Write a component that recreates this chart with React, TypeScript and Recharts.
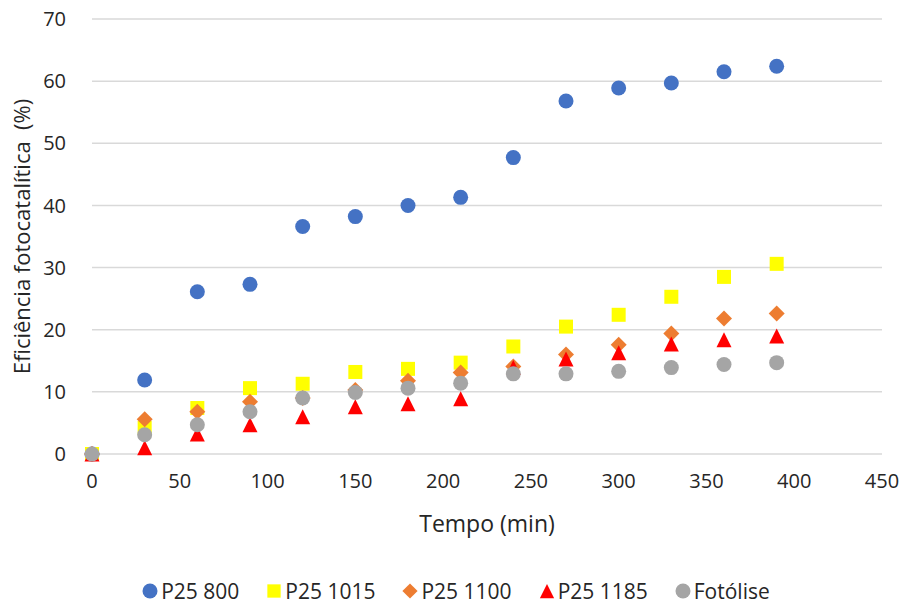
import {
  ScatterChart,
  Scatter,
  XAxis,
  YAxis,
  CartesianGrid,
  Legend,
  Label,
} from "recharts";

const tempo = [0, 30, 60, 90, 120, 150, 180, 210, 240, 270, 300, 330, 360, 390];
const p25_800 = [0, 11.9, 26.1, 27.3, 36.6, 38.2, 40.0, 41.3, 47.7, 56.8, 58.9, 59.7, 61.5, 62.4];
const p25_1015 = [0, 4.2, 7.4, 10.6, 11.3, 13.2, 13.7, 14.7, 17.3, 20.5, 22.4, 25.3, 28.5, 30.6];
const p25_1100 = [0, 5.6, 6.8, 8.4, 9.0, 10.3, 11.8, 13.1, 14.1, 16.0, 17.6, 19.4, 21.8, 22.6];
const p25_1185 = [0, 1.0, 3.2, 4.7, 6.0, 7.6, 8.1, 8.9, 13.9, 15.3, 16.3, 17.7, 18.4, 19.0];
const fotolise = [0, 3.1, 4.7, 6.8, 9.0, 9.9, 10.6, 11.4, 12.9, 12.9, 13.3, 13.9, 14.4, 14.7];

const xTicks = [0, 50, 100, 150, 200, 250, 300, 350, 400, 450];
const yTicks = [0, 10, 20, 30, 40, 50, 60, 70];

const FONT = "'Open Sans', sans-serif";
const TEXT = "#262626";

const toPoints = (vals: number[]) => tempo.map((t, i) => ({ x: t, y: vals[i] }));

type Kind = "circle" | "square" | "diamond" | "triangle";

const series: { name: string; data: number[]; color: string; kind: Kind }[] = [
  { name: "P25 800", data: p25_800, color: "#4472C4", kind: "circle" },
  { name: "P25 1015", data: p25_1015, color: "#FFFF00", kind: "square" },
  { name: "P25 1100", data: p25_1100, color: "#ED7D31", kind: "diamond" },
  { name: "P25 1185", data: p25_1185, color: "#FF0000", kind: "triangle" },
  { name: "Fotólise", data: fotolise, color: "#A5A5A5", kind: "circle" },
];

const Marker = ({ cx, cy, color, kind, s = 1 }: any) => {
  if (cx == null || cy == null) return null;
  if (kind === "square") {
    const h = 7 * s;
    return <rect x={cx - h} y={cy - h} width={h * 2} height={h * 2} fill={color} />;
  }
  if (kind === "diamond") {
    const h = 8 * s;
    return (
      <polygon
        points={`${cx},${cy - h} ${cx + h},${cy} ${cx},${cy + h} ${cx - h},${cy}`}
        fill={color}
      />
    );
  }
  if (kind === "triangle") {
    const h = 7.5 * s;
    return (
      <polygon
        points={`${cx},${cy - h} ${cx + h},${cy + h} ${cx - h},${cy + h}`}
        fill={color}
      />
    );
  }
  return <circle cx={cx} cy={cy} r={7.5 * s} fill={color} />;
};

const LegendContent = () => (
  <div
    style={{
      display: "flex",
      justifyContent: "center",
      alignItems: "center",
      gap: 27,
      fontFamily: FONT,
      fontSize: 21,
      color: TEXT,
      paddingLeft: 30,
    }}
  >
    {series.map((s) => (
      <div key={s.name} style={{ display: "flex", alignItems: "center", gap: 3 }}>
        <svg width={16} height={16}>
          <Marker cx={8} cy={8} color={s.color} kind={s.kind} s={s.kind === "circle" ? 1 : 0.95} />
        </svg>
        <span>{s.name}</span>
      </div>
    ))}
  </div>
);

export default function App() {
  return (
    <div style={{ position: "absolute", left: 0, top: 0, width: 909, height: 607, background: "#fff" }}>
      <ScatterChart
        width={909}
        height={607}
        margin={{ top: 19, right: 27, bottom: 41, left: 0 }}
      >
        <CartesianGrid vertical={false} stroke="#D9D9D9" strokeWidth={1.5} />
        <XAxis
          type="number"
          dataKey="x"
          domain={[0, 450]}
          ticks={xTicks}
          axisLine={false}
          tickLine={false}
          tickMargin={14}
          height={84}
          tick={{ fontSize: 20, fill: TEXT, fontFamily: FONT }}
          interval={0}
        >
          <Label
            value="Tempo (min)"
            position="insideBottom"
            offset={6}
            style={{ fontSize: 23, fill: TEXT, fontFamily: FONT }}
          />
        </XAxis>
        <YAxis
          type="number"
          dataKey="y"
          domain={[0, 70]}
          ticks={yTicks}
          axisLine={false}
          tickLine={false}
          tickMargin={20}
          width={92}
          tick={{ fontSize: 20, fill: TEXT, fontFamily: FONT }}
          interval={0}
        >
          <Label
            value={"Eficiência fotocatalítica\u00A0\u00A0(%)"}
            angle={-90}
            position="insideLeft"
            offset={22}
            style={{ fontSize: 22, fill: TEXT, fontFamily: FONT, textAnchor: "middle" }}
          />
        </YAxis>
        <Legend
          verticalAlign="bottom"
          content={<LegendContent />}
          wrapperStyle={{ bottom: 2 }}
        />
        {series.map((s) => (
          <Scatter
            key={s.name}
            name={s.name}
            data={toPoints(s.data)}
            fill={s.color}
            isAnimationActive={false}
            shape={(p: any) => <Marker cx={p.cx} cy={p.cy} color={s.color} kind={s.kind} />}
          />
        ))}
      </ScatterChart>
    </div>
  );
}
